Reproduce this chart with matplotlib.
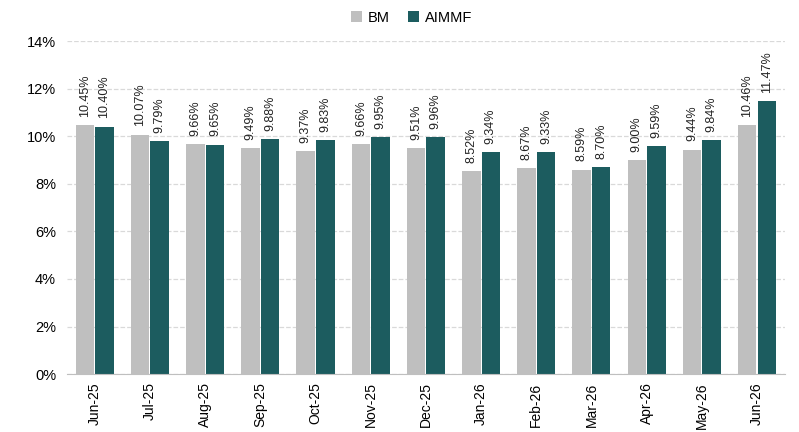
import matplotlib.pyplot as plt
import numpy as np
from matplotlib.ticker import FuncFormatter

months = ["Jun-25", "Jul-25", "Aug-25", "Sep-25", "Oct-25", "Nov-25", "Dec-25",
          "Jan-26", "Feb-26", "Mar-26", "Apr-26", "May-26", "Jun-26"]
bm = [10.45, 10.07, 9.66, 9.49, 9.37, 9.66, 9.51, 8.52, 8.67, 8.59, 9.00, 9.44, 10.46]
aimmf = [10.40, 9.79, 9.65, 9.88, 9.83, 9.95, 9.96, 9.34, 9.33, 8.70, 9.59, 9.84, 11.47]

plt.rcParams['font.family'] = ['Liberation Sans', 'DejaVu Sans']

fig = plt.figure(figsize=(7.99, 4.32), dpi=100)
ax = fig.add_axes([0.084, 0.134, 0.898, 0.771])

x = np.arange(len(months))
w = 0.335
gap = 0.02
b1 = ax.bar(x - w / 2 - gap / 2, bm, w, color="#BFBFBF", label="BM", zorder=2)
b2 = ax.bar(x + w / 2 + gap / 2, aimmf, w, color="#1C5C5F", label="AIMMF", zorder=2)

for bars, vals in ((b1, bm), (b2, aimmf)):
    for r, v in zip(bars, vals):
        ax.text(r.get_x() + r.get_width() / 2, v + 0.35, f"{v:.2f}%", rotation=90,
                ha="center", va="bottom", fontsize=9, color="#222222")

ax.set_xlim(-0.5, len(months) - 0.5)
ax.set_ylim(0, 14)
ax.set_yticks(np.arange(0, 15, 2))
ax.yaxis.set_major_formatter(FuncFormatter(lambda v, p: f"{v:.0f}%"))
ax.set_xticks(x)
ax.set_xticklabels(months, rotation=90, fontsize=10)
ax.tick_params(axis="y", labelsize=10.5, length=0, pad=8)
ax.tick_params(axis="x", length=0, pad=6)
ax.grid(axis="y", color="#D9D9D9", linestyle="--", linewidth=0.9, zorder=0)
for s in ["top", "right", "left"]:
    ax.spines[s].set_visible(False)
ax.spines["bottom"].set_color("#BFBFBF")

ax.legend(loc="upper center", bbox_to_anchor=(0.48, 1.13), ncol=2, frameon=False,
          fontsize=10.5, handlelength=0.8, handleheight=0.8, columnspacing=1.2,
          handletextpad=0.4)

fig.savefig("out.png", dpi=100)
